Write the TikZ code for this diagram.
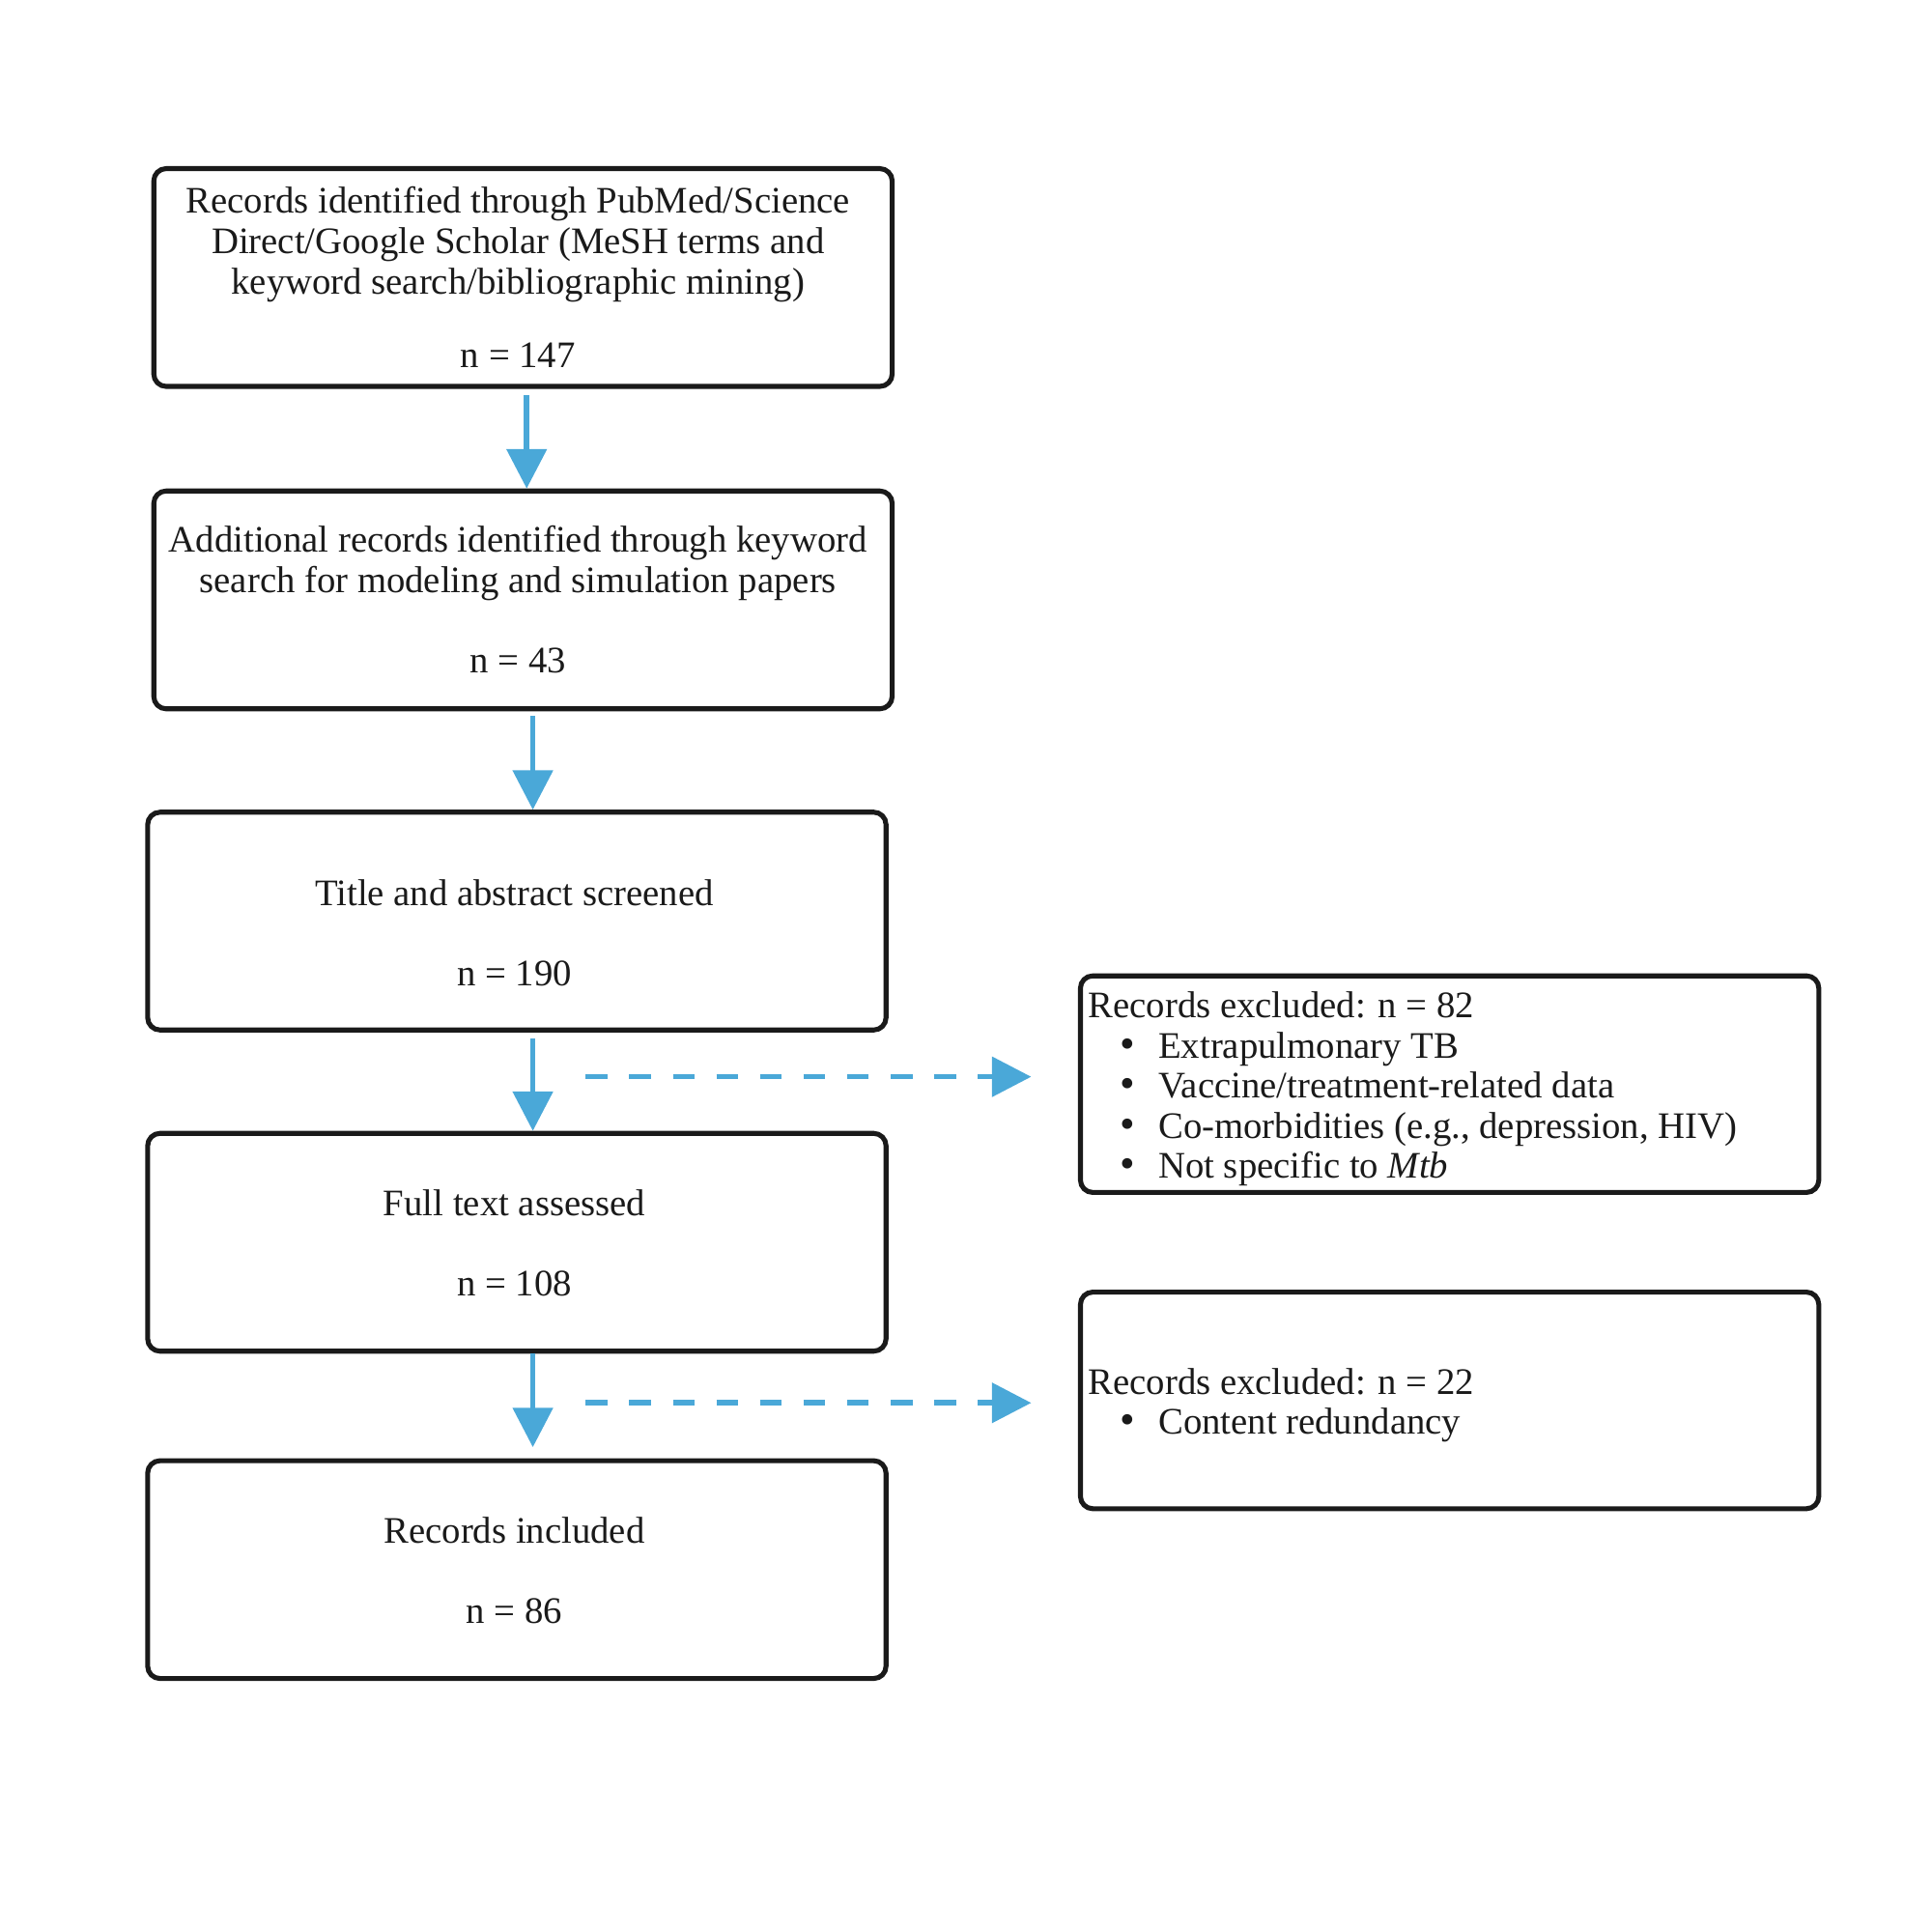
\documentclass[tikz,border=0pt]{standalone}
\usepackage{fontspec}
\setmainfont{Liberation Serif}
\usetikzlibrary{arrows.meta}
\definecolor{arrowblue}{RGB}{74,168,216}
\definecolor{boxline}{RGB}{26,26,26}
\newcommand{\bitem}{\makebox[28.5pt][l]{\hspace{13pt}{\fontsize{17.5}{16}\selectfont\textbullet}}}
\begin{document}
\begin{tikzpicture}[x=0.5pt,y=-0.5pt,
  box/.style={draw=boxline, line width=2pt, rounded corners=5pt, minimum width=300pt, minimum height=88.5pt, inner sep=0pt, anchor=north west},
  txt/.style={align=center, inner sep=0pt, font=\fontsize{15.2}{16.5}\selectfont, text=boxline},
  ltxt/.style={align=left, inner sep=0pt, font=\fontsize{15.2}{16.25}\selectfont, text=boxline, anchor=west},
  flow/.style={draw=arrowblue, line width=2.2pt, -{Triangle[width=16pt,length=16pt]}},
  dflow/.style={flow, dash pattern=on 8.85pt off 8.85pt, shorten >=19pt}]
\useasboundingbox (0,0) rectangle (1570,1570);
\node[box] (b1) at (123,135) {};
\node[box] (b2) at (123,397) {};
\node[box] (b3) at (118,658) {};
\node[box] (b4) at (118,919) {};
\node[box] (b5) at (118,1185) {};
\node[box, minimum height=88pt] (r1) at (876,791) {};
\node[box, minimum height=88pt] (r2) at (876,1048) {};
\node[txt] (t1) at (421,225) {Records identified through PubMed/Science\\Direct/Google Scholar (MeSH terms and\\keyword search/bibliographic mining)\\[13.5pt] n = 147};
\node[txt] (t2) at (421,487) {Additional records identified through keyword\\search for modeling and simulation papers\\[16pt] n = 43};
\node[txt] (t3) at (418,758) {Title and abstract screened\\[16pt] n = 190};
\node[txt] (t4) at (418,1010) {Full text assessed\\[16pt] n = 108};
\node[txt] (t5) at (418,1276) {Records included\\[16pt] n = 86};
\node[ltxt] (t6) at (884,885) {Records excluded: n = 82\\\bitem Extrapulmonary TB\\\bitem Vaccine/treatment-related data\\\bitem Co-morbidities (e.g., depression, HIV)\\\bitem Not specific to \textit{Mtb}};
\node[ltxt] (t7) at (884,1142) {Records excluded: n = 22\\\bitem Content redundancy};
\draw[flow, shorten <=2.5pt] ([xshift=152.5pt]b1.south west) -- ([xshift=152.5pt]b2.north west);
\draw[flow, shorten <=2pt] ([xshift=155pt]b2.south west) -- ([xshift=157.5pt]b3.north west);
\draw[flow, shorten <=2.5pt] ([xshift=157.5pt]b3.south west) -- ([xshift=157.5pt]b4.north west);
\draw[flow, shorten >=4.5pt] ([xshift=157.5pt]b4.south west) -- ([xshift=157.5pt]b5.north west);
\coordinate (d1) at (476,875);
\coordinate (d2) at (476,1140);
\draw[dflow] (d1) -- (d1 -| r1.west);
\draw[dflow] (d2) -- (d2 -| r2.west);
\end{tikzpicture}
\end{document}
